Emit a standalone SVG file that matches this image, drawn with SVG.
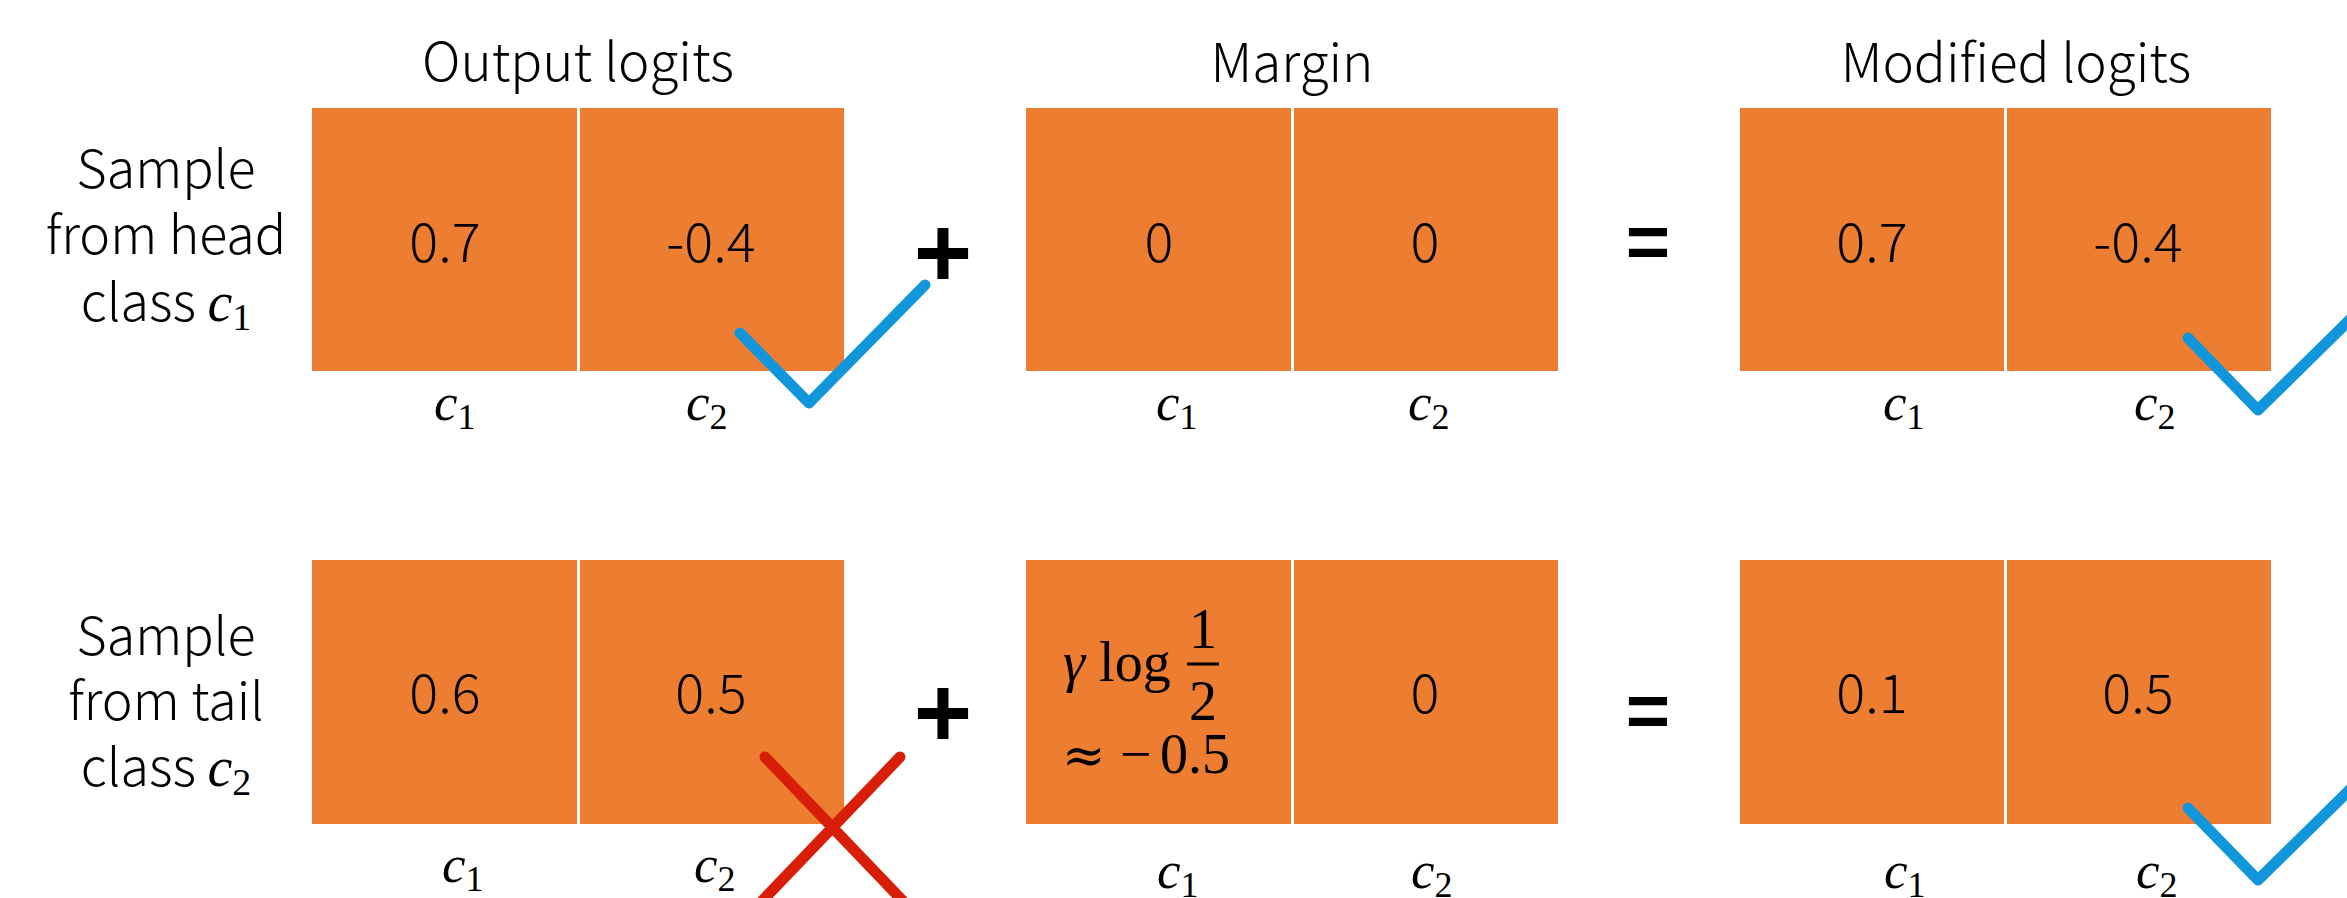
<svg xmlns="http://www.w3.org/2000/svg" width="2347" height="898" viewBox="0 0 2347 898">
<style>
.bg{fill:#ffffff}
.cell{fill:#ED7D31}
.div{stroke:#ffffff;stroke-width:3}
.t{font-family:"Noto Sans CJK SC","Noto Sans",sans-serif;font-weight:300;fill:#000;text-anchor:middle}
.title{font-size:53px}
.lab{font-size:52px}
.num{font-size:54px}
.ci{font-family:"Liberation Serif",serif;font-style:italic;font-size:53px;fill:#000}
.sub{font-style:normal;font-size:36px}
.lc{font-family:"Liberation Serif",serif;font-style:italic;font-size:56px}
.lsub{font-family:"Liberation Serif",serif;font-style:normal;font-size:38px}
.m{font-family:"Liberation Serif",serif;font-size:56px;fill:#000}
.op{font-family:"Liberation Sans",Arial,sans-serif;font-weight:bold;fill:#000;text-anchor:middle}
.chk{fill:none;stroke:#1296DB;stroke-width:11;stroke-linecap:round;stroke-linejoin:round}
.x{fill:none;stroke:#D81E06;stroke-width:11;stroke-linecap:round}
</style>
<rect class="bg" x="0" y="0" width="2347" height="898"/>

<g id="titles">
<text class="t title" x="578" y="81">Output logits</text>
<text class="t title" x="1292" y="82">Margin</text>
<text class="t title" x="2016" y="82">Modified logits</text>
</g>

<g id="row1-label">
<text class="t lab" x="166" y="188">Sample</text>
<text class="t lab" x="166" y="254">from head</text>
<text class="t lab" x="166" y="321">class <tspan class="lc">c</tspan><tspan class="lsub" dy="9">1</tspan></text>
</g>
<g id="row2-label">
<text class="t lab" x="166" y="655">Sample</text>
<text class="t lab" x="166" y="720">from tail</text>
<text class="t lab" x="166" y="786">class <tspan class="lc">c</tspan><tspan class="lsub" dy="9">2</tspan></text>
</g>

<g id="r1-output">
<rect class="cell" x="312" y="108" width="532" height="263"/>
<line class="div" x1="578.5" y1="108" x2="578.5" y2="371"/>
<text class="t num" x="445" y="262">0.7</text>
<text class="t num" x="711" y="262">-0.4</text>
<text class="ci" x="434" y="420">c<tspan class="sub" dy="9">1</tspan></text>
<text class="ci" x="686" y="420">c<tspan class="sub" dy="9">2</tspan></text>
</g>

<g id="r1-margin">
<rect class="cell" x="1026" y="108" width="532" height="263"/>
<line class="div" x1="1292.5" y1="108" x2="1292.5" y2="371"/>
<text class="t num" x="1159" y="262">0</text>
<text class="t num" x="1425" y="262">0</text>
<text class="ci" x="1156" y="420">c<tspan class="sub" dy="9">1</tspan></text>
<text class="ci" x="1408" y="420">c<tspan class="sub" dy="9">2</tspan></text>
</g>

<g id="r1-modified">
<rect class="cell" x="1740" y="108" width="531" height="263"/>
<line class="div" x1="2005.5" y1="108" x2="2005.5" y2="371"/>
<text class="t num" x="1872" y="262">0.7</text>
<text class="t num" x="2138" y="262">-0.4</text>
<text class="ci" x="1883" y="420">c<tspan class="sub" dy="9">1</tspan></text>
<text class="ci" x="2134" y="420">c<tspan class="sub" dy="9">2</tspan></text>
</g>

<g id="r2-output">
<rect class="cell" x="312" y="560" width="532" height="264"/>
<line class="div" x1="578.5" y1="560" x2="578.5" y2="824"/>
<text class="t num" x="445" y="713">0.6</text>
<text class="t num" x="711" y="713">0.5</text>
<text class="ci" x="442" y="882">c<tspan class="sub" dy="9">1</tspan></text>
<text class="ci" x="694" y="882">c<tspan class="sub" dy="9">2</tspan></text>
</g>

<g id="r2-margin">
<rect class="cell" x="1026" y="560" width="532" height="264"/>
<line class="div" x1="1292.5" y1="560" x2="1292.5" y2="824"/>
<text class="m" x="1063" y="681"><tspan font-style="italic">γ</tspan> log</text>
<text class="m" x="1203" y="648" text-anchor="middle">1</text>
<line x1="1187" y1="664" x2="1219" y2="664" stroke="#000" stroke-width="3"/>
<text class="m" x="1203" y="720" text-anchor="middle">2</text>
<text x="1062" y="773" font-family="DejaVu Serif,serif" font-size="52" fill="#000">≈</text>
<text class="m" x="1120" y="773" font-size="62">−</text>
<text class="m" x="1160" y="773" font-size="60">0.5</text>
<text class="t num" x="1425" y="713">0</text>
<text class="ci" x="1157" y="888">c<tspan class="sub" dy="9">1</tspan></text>
<text class="ci" x="1411" y="888">c<tspan class="sub" dy="9">2</tspan></text>
</g>

<g id="r2-modified">
<rect class="cell" x="1740" y="560" width="531" height="264"/>
<line class="div" x1="2005.5" y1="560" x2="2005.5" y2="824"/>
<text class="t num" x="1872" y="713">0.1</text>
<text class="t num" x="2138" y="713">0.5</text>
<text class="ci" x="1884" y="888">c<tspan class="sub" dy="9">1</tspan></text>
<text class="ci" x="2136" y="888">c<tspan class="sub" dy="9">2</tspan></text>
</g>

<g id="operators">
<text class="op" x="943" y="287" font-size="100">+</text>
<text class="op" x="943" y="747" font-size="100">+</text>
<text class="op" x="1648" y="268" font-size="76">=</text>
<text class="op" x="1648" y="737" font-size="76">=</text>
</g>

<g id="marks">
<polyline class="chk" points="740,333 809,403 925,285"/>
<polyline class="chk" points="2188,338 2258,410 2380,290"/>
<polyline class="chk" points="2188,808 2258,880 2380,760"/>
<line class="x" x1="765" y1="757" x2="902" y2="900"/>
<line class="x" x1="900" y1="757" x2="763" y2="900"/>
</g>
</svg>
